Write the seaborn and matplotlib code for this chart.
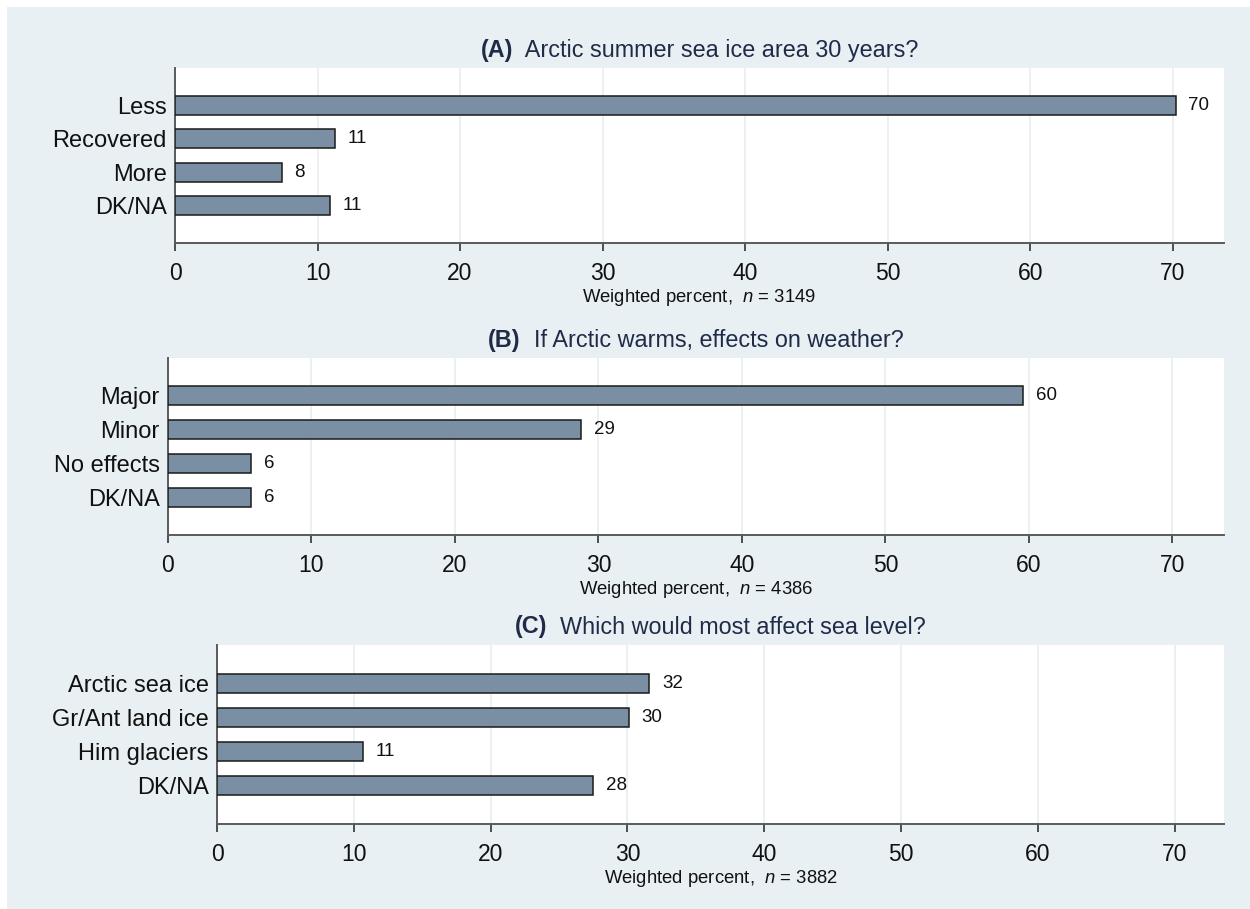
import matplotlib
matplotlib.use("Agg")
import matplotlib.pyplot as plt
import seaborn as sns
import pandas as pd
from matplotlib.patches import Rectangle

# values (weighted percent)
cats_a = ["Less", "Recovered", "More", "DK/NA"]
vals_a = [70.2, 11.2, 7.5, 10.9]
labels_a = ["70", "11", "8", "11"]

cats_b = ["Major", "Minor", "No effects", "DK/NA"]
vals_b = [59.6, 28.8, 5.8, 5.8]
labels_b = ["60", "29", "6", "6"]

cats_c = ["Arctic sea ice", "Gr/Ant land ice", "Him glaciers", "DK/NA"]
vals_c = [31.6, 30.1, 10.7, 27.5]
labels_c = ["32", "30", "11", "28"]

titles = [("(A)", "Arctic summer sea ice area 30 years?"),
          ("(B)", "If Arctic warms, effects on weather?"),
          ("(C)", "Which would most affect sea level?")]
n_vals = [3149, 4386, 3882]

sns.set_theme(style="white")
plt.rcParams["font.family"] = ["Liberation Sans", "DejaVu Sans"]
plt.rcParams["mathtext.fontset"] = "custom"
plt.rcParams["mathtext.it"] = "Liberation Sans:italic"
plt.rcParams["mathtext.rm"] = "Liberation Sans"

BG = "#e8f0f3"
BAR = "#7a8ea4"
NAVY = "#1f2b47"
W, H = 1250, 909

fig = plt.figure(figsize=(12.5, 9.09), dpi=100, facecolor="white")
fig.patches.append(Rectangle((7 / W, 0), 1 - 7 / W, 1 - 7 / H,
                             transform=fig.transFigure, facecolor=BG,
                             edgecolor="none", zorder=-10))

# axes boxes in pixels: left, right, top, bottom
boxes = [(175, 1224, 68, 243), (168, 1224, 358, 535), (217, 1224, 645, 824)]
panels = [(cats_a, vals_a, labels_a), (cats_b, vals_b, labels_b),
          (cats_c, vals_c, labels_c)]
renderer = fig.canvas.get_renderer()

for (l, r, t, b), (cats, vals, labs), (tag, ttl), n in zip(boxes, panels, titles, n_vals):
    ax = fig.add_axes([l / W, 1 - b / H, (r - l) / W, (b - t) / H])
    ax.set_facecolor("white")
    df = pd.DataFrame({"cat": cats, "val": vals})
    sns.barplot(data=df, x="val", y="cat", orient="h", color=BAR, width=0.56,
                edgecolor="#1a1a1a", linewidth=1.1, saturation=1, ax=ax, zorder=3)
    ax.bar_label(ax.containers[0], labels=labs, padding=9, fontsize=13.5, color="#111111")
    ax.set_xlim(0, 73.6)
    ax.set_ylim(4.12, -1.12)
    ax.set_xticks(range(0, 71, 10))
    ax.xaxis.grid(True, color="#e6edf1", linewidth=1.2, zorder=0)
    ax.set_axisbelow(True)
    for s in ["top", "right"]:
        ax.spines[s].set_visible(False)
    for s in ["left", "bottom"]:
        ax.spines[s].set_color("#5a5a5a")
        ax.spines[s].set_linewidth(1.4)
    ax.tick_params(axis="x", direction="out", length=6, width=1.2, color="#333333",
                   labelsize=16.5, labelcolor="#111111", pad=8, bottom=True)
    ax.tick_params(axis="y", length=0, labelsize=17, labelcolor="#111111", pad=6)
    ax.set_ylabel("")
    ax.set_xlabel(f"Weighted percent,  $\\it{{n}}$ = {n}", fontsize=13.3,
                  color="#111111", labelpad=1)

    # bold tag and normal title text side by side, centred over the axes
    cx = (l + r) / 2 / W
    ty = 1 - (t - 18) / H
    t1 = fig.text(0, ty, tag, fontsize=16.8, fontweight="bold", color=NAVY, va="center")
    t2 = fig.text(0, ty, "  " + ttl, fontsize=16.8, color=NAVY, va="center")
    w1 = t1.get_window_extent(renderer).width / W
    w2 = t2.get_window_extent(renderer).width / W
    x0 = cx - (w1 + w2) / 2
    t1.set_x(x0)
    t2.set_x(x0 + w1)

fig.savefig("out.png", dpi=100, facecolor="white")
